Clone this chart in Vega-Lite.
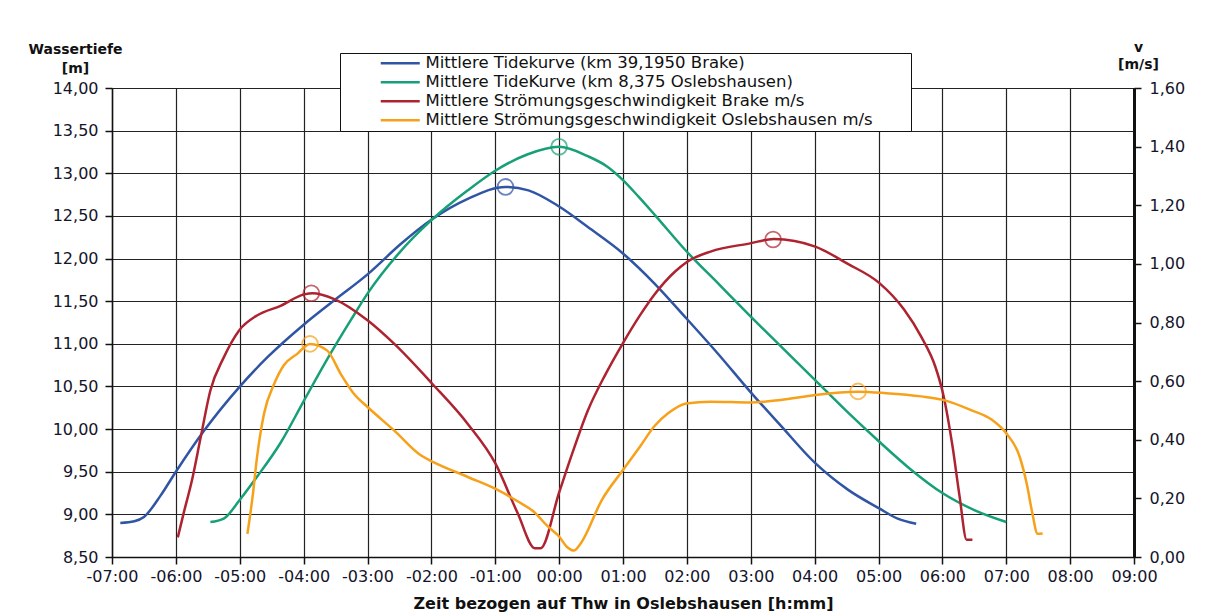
{
  "$schema": "https://vega.github.io/schema/vega-lite/v6.json",
  "width": 1022,
  "height": 469,
  "autosize": {"type": "none"},
  "padding": {"left": 112, "top": 88, "right": 91, "bottom": 58},
  "background": "white",
  "config": {
    "view": {"stroke": null},
    "font": "DejaVu Sans",
    "axis": {
      "gridColor": "#222222",
      "gridWidth": 1.2,
      "gridOpacity": 1,
      "domainColor": "#111111",
      "domainWidth": 1.5,
      "tickColor": "#111111",
      "tickWidth": 1.5,
      "tickSize": 7,
      "labelColor": "#14142a",
      "titleColor": "#111111",
      "labelFont": "DejaVu Sans",
      "titleFont": "DejaVu Sans",
      "labelFontSize": 16,
      "labelOverlap": false,
      "labelFlush": false,
      "labelBound": false
    }
  },
  "datasets": {
    "tide": [
      {"series": "Mittlere Tidekurve (km 39,1950 Brake)", "t": -6.87, "val": 8.90},
      {"series": "Mittlere Tidekurve (km 39,1950 Brake)", "t": -6.65, "val": 8.92},
      {"series": "Mittlere Tidekurve (km 39,1950 Brake)", "t": -6.50, "val": 8.97},
      {"series": "Mittlere Tidekurve (km 39,1950 Brake)", "t": -6.24, "val": 9.22},
      {"series": "Mittlere Tidekurve (km 39,1950 Brake)", "t": -6.00, "val": 9.50},
      {"series": "Mittlere Tidekurve (km 39,1950 Brake)", "t": -5.56, "val": 9.98},
      {"series": "Mittlere Tidekurve (km 39,1950 Brake)", "t": -5.01, "val": 10.49},
      {"series": "Mittlere Tidekurve (km 39,1950 Brake)", "t": -4.57, "val": 10.84},
      {"series": "Mittlere Tidekurve (km 39,1950 Brake)", "t": -3.99, "val": 11.23},
      {"series": "Mittlere Tidekurve (km 39,1950 Brake)", "t": -3.52, "val": 11.51},
      {"series": "Mittlere Tidekurve (km 39,1950 Brake)", "t": -2.99, "val": 11.82},
      {"series": "Mittlere Tidekurve (km 39,1950 Brake)", "t": -2.48, "val": 12.17},
      {"series": "Mittlere Tidekurve (km 39,1950 Brake)", "t": -1.99, "val": 12.46},
      {"series": "Mittlere Tidekurve (km 39,1950 Brake)", "t": -1.43, "val": 12.70},
      {"series": "Mittlere Tidekurve (km 39,1950 Brake)", "t": -0.84, "val": 12.84},
      {"series": "Mittlere Tidekurve (km 39,1950 Brake)", "t": -0.48, "val": 12.80},
      {"series": "Mittlere Tidekurve (km 39,1950 Brake)", "t": 0.00, "val": 12.61},
      {"series": "Mittlere Tidekurve (km 39,1950 Brake)", "t": 0.45, "val": 12.37},
      {"series": "Mittlere Tidekurve (km 39,1950 Brake)", "t": 1.00, "val": 12.06},
      {"series": "Mittlere Tidekurve (km 39,1950 Brake)", "t": 1.49, "val": 11.71},
      {"series": "Mittlere Tidekurve (km 39,1950 Brake)", "t": 1.99, "val": 11.30},
      {"series": "Mittlere Tidekurve (km 39,1950 Brake)", "t": 2.48, "val": 10.89},
      {"series": "Mittlere Tidekurve (km 39,1950 Brake)", "t": 2.99, "val": 10.44},
      {"series": "Mittlere Tidekurve (km 39,1950 Brake)", "t": 3.47, "val": 10.04},
      {"series": "Mittlere Tidekurve (km 39,1950 Brake)", "t": 4.01, "val": 9.60},
      {"series": "Mittlere Tidekurve (km 39,1950 Brake)", "t": 4.52, "val": 9.29},
      {"series": "Mittlere Tidekurve (km 39,1950 Brake)", "t": 5.01, "val": 9.07},
      {"series": "Mittlere Tidekurve (km 39,1950 Brake)", "t": 5.30, "val": 8.95},
      {"series": "Mittlere Tidekurve (km 39,1950 Brake)", "t": 5.59, "val": 8.89},
      {"series": "Mittlere TideKurve (km 8,375 Oslebshausen)", "t": -5.46, "val": 8.91},
      {"series": "Mittlere TideKurve (km 8,375 Oslebshausen)", "t": -5.25, "val": 8.95},
      {"series": "Mittlere TideKurve (km 8,375 Oslebshausen)", "t": -5.01, "val": 9.16},
      {"series": "Mittlere TideKurve (km 8,375 Oslebshausen)", "t": -4.73, "val": 9.44},
      {"series": "Mittlere TideKurve (km 8,375 Oslebshausen)", "t": -4.36, "val": 9.84},
      {"series": "Mittlere TideKurve (km 8,375 Oslebshausen)", "t": -3.99, "val": 10.34},
      {"series": "Mittlere TideKurve (km 8,375 Oslebshausen)", "t": -3.63, "val": 10.82},
      {"series": "Mittlere TideKurve (km 8,375 Oslebshausen)", "t": -3.26, "val": 11.28},
      {"series": "Mittlere TideKurve (km 8,375 Oslebshausen)", "t": -2.99, "val": 11.60},
      {"series": "Mittlere TideKurve (km 8,375 Oslebshausen)", "t": -2.50, "val": 12.07},
      {"series": "Mittlere TideKurve (km 8,375 Oslebshausen)", "t": -2.00, "val": 12.45},
      {"series": "Mittlere TideKurve (km 8,375 Oslebshausen)", "t": -1.43, "val": 12.80},
      {"series": "Mittlere TideKurve (km 8,375 Oslebshausen)", "t": -1.00, "val": 13.03},
      {"series": "Mittlere TideKurve (km 8,375 Oslebshausen)", "t": -0.50, "val": 13.22},
      {"series": "Mittlere TideKurve (km 8,375 Oslebshausen)", "t": 0.00, "val": 13.31},
      {"series": "Mittlere TideKurve (km 8,375 Oslebshausen)", "t": 0.45, "val": 13.20},
      {"series": "Mittlere TideKurve (km 8,375 Oslebshausen)", "t": 0.75, "val": 13.08},
      {"series": "Mittlere TideKurve (km 8,375 Oslebshausen)", "t": 1.00, "val": 12.92},
      {"series": "Mittlere TideKurve (km 8,375 Oslebshausen)", "t": 1.25, "val": 12.72},
      {"series": "Mittlere TideKurve (km 8,375 Oslebshausen)", "t": 1.50, "val": 12.51},
      {"series": "Mittlere TideKurve (km 8,375 Oslebshausen)", "t": 2.00, "val": 12.08},
      {"series": "Mittlere TideKurve (km 8,375 Oslebshausen)", "t": 2.50, "val": 11.70},
      {"series": "Mittlere TideKurve (km 8,375 Oslebshausen)", "t": 3.00, "val": 11.32},
      {"series": "Mittlere TideKurve (km 8,375 Oslebshausen)", "t": 3.50, "val": 10.95},
      {"series": "Mittlere TideKurve (km 8,375 Oslebshausen)", "t": 4.00, "val": 10.58},
      {"series": "Mittlere TideKurve (km 8,375 Oslebshausen)", "t": 4.50, "val": 10.21},
      {"series": "Mittlere TideKurve (km 8,375 Oslebshausen)", "t": 5.00, "val": 9.86},
      {"series": "Mittlere TideKurve (km 8,375 Oslebshausen)", "t": 5.50, "val": 9.53},
      {"series": "Mittlere TideKurve (km 8,375 Oslebshausen)", "t": 6.00, "val": 9.25},
      {"series": "Mittlere TideKurve (km 8,375 Oslebshausen)", "t": 6.50, "val": 9.05},
      {"series": "Mittlere TideKurve (km 8,375 Oslebshausen)", "t": 7.00, "val": 8.91}
    ],
    "tidepk": [
      {"series": "Mittlere Tidekurve (km 39,1950 Brake)", "t": -0.84, "val": 12.84},
      {"series": "Mittlere TideKurve (km 8,375 Oslebshausen)", "t": 0.00, "val": 13.31}
    ],
    "speed": [
      {"series": "Mittlere Strömungsgeschwindigkeit Brake m/s", "t": -5.97, "val": 0.067},
      {"series": "Mittlere Strömungsgeschwindigkeit Brake m/s", "t": -5.88, "val": 0.148},
      {"series": "Mittlere Strömungsgeschwindigkeit Brake m/s", "t": -5.75, "val": 0.26},
      {"series": "Mittlere Strömungsgeschwindigkeit Brake m/s", "t": -5.61, "val": 0.41},
      {"series": "Mittlere Strömungsgeschwindigkeit Brake m/s", "t": -5.46, "val": 0.568},
      {"series": "Mittlere Strömungsgeschwindigkeit Brake m/s", "t": -5.25, "val": 0.681},
      {"series": "Mittlere Strömungsgeschwindigkeit Brake m/s", "t": -5.01, "val": 0.773},
      {"series": "Mittlere Strömungsgeschwindigkeit Brake m/s", "t": -4.73, "val": 0.824},
      {"series": "Mittlere Strömungsgeschwindigkeit Brake m/s", "t": -4.36, "val": 0.857},
      {"series": "Mittlere Strömungsgeschwindigkeit Brake m/s", "t": -3.99, "val": 0.896},
      {"series": "Mittlere Strömungsgeschwindigkeit Brake m/s", "t": -3.86, "val": 0.90},
      {"series": "Mittlere Strömungsgeschwindigkeit Brake m/s", "t": -3.52, "val": 0.88},
      {"series": "Mittlere Strömungsgeschwindigkeit Brake m/s", "t": -2.99, "val": 0.806},
      {"series": "Mittlere Strömungsgeschwindigkeit Brake m/s", "t": -2.58, "val": 0.727},
      {"series": "Mittlere Strömungsgeschwindigkeit Brake m/s", "t": -1.99, "val": 0.592},
      {"series": "Mittlere Strömungsgeschwindigkeit Brake m/s", "t": -1.43, "val": 0.454},
      {"series": "Mittlere Strömungsgeschwindigkeit Brake m/s", "t": -1.00, "val": 0.32},
      {"series": "Mittlere Strömungsgeschwindigkeit Brake m/s", "t": -0.65, "val": 0.15},
      {"series": "Mittlere Strömungsgeschwindigkeit Brake m/s", "t": -0.38, "val": 0.03},
      {"series": "Mittlere Strömungsgeschwindigkeit Brake m/s", "t": -0.29, "val": 0.03},
      {"series": "Mittlere Strömungsgeschwindigkeit Brake m/s", "t": 0.00, "val": 0.22},
      {"series": "Mittlere Strömungsgeschwindigkeit Brake m/s", "t": 0.20, "val": 0.35},
      {"series": "Mittlere Strömungsgeschwindigkeit Brake m/s", "t": 0.45, "val": 0.50},
      {"series": "Mittlere Strömungsgeschwindigkeit Brake m/s", "t": 0.73, "val": 0.625},
      {"series": "Mittlere Strömungsgeschwindigkeit Brake m/s", "t": 1.00, "val": 0.73},
      {"series": "Mittlere Strömungsgeschwindigkeit Brake m/s", "t": 1.27, "val": 0.826},
      {"series": "Mittlere Strömungsgeschwindigkeit Brake m/s", "t": 1.49, "val": 0.895},
      {"series": "Mittlere Strömungsgeschwindigkeit Brake m/s", "t": 1.82, "val": 0.975},
      {"series": "Mittlere Strömungsgeschwindigkeit Brake m/s", "t": 1.99, "val": 1.005},
      {"series": "Mittlere Strömungsgeschwindigkeit Brake m/s", "t": 2.37, "val": 1.042},
      {"series": "Mittlere Strömungsgeschwindigkeit Brake m/s", "t": 2.99, "val": 1.07},
      {"series": "Mittlere Strömungsgeschwindigkeit Brake m/s", "t": 3.36, "val": 1.085},
      {"series": "Mittlere Strömungsgeschwindigkeit Brake m/s", "t": 4.01, "val": 1.059},
      {"series": "Mittlere Strömungsgeschwindigkeit Brake m/s", "t": 4.52, "val": 1.0},
      {"series": "Mittlere Strömungsgeschwindigkeit Brake m/s", "t": 5.01, "val": 0.935},
      {"series": "Mittlere Strömungsgeschwindigkeit Brake m/s", "t": 5.40, "val": 0.844},
      {"series": "Mittlere Strömungsgeschwindigkeit Brake m/s", "t": 5.67, "val": 0.751},
      {"series": "Mittlere Strömungsgeschwindigkeit Brake m/s", "t": 5.89, "val": 0.649},
      {"series": "Mittlere Strömungsgeschwindigkeit Brake m/s", "t": 6.01, "val": 0.558},
      {"series": "Mittlere Strömungsgeschwindigkeit Brake m/s", "t": 6.16, "val": 0.376},
      {"series": "Mittlere Strömungsgeschwindigkeit Brake m/s", "t": 6.27, "val": 0.206},
      {"series": "Mittlere Strömungsgeschwindigkeit Brake m/s", "t": 6.38, "val": 0.059},
      {"series": "Mittlere Strömungsgeschwindigkeit Brake m/s", "t": 6.47, "val": 0.059},
      {"series": "Mittlere Strömungsgeschwindigkeit Oslebshausen m/s", "t": -4.88, "val": 0.079},
      {"series": "Mittlere Strömungsgeschwindigkeit Oslebshausen m/s", "t": -4.80, "val": 0.204},
      {"series": "Mittlere Strömungsgeschwindigkeit Oslebshausen m/s", "t": -4.73, "val": 0.34},
      {"series": "Mittlere Strömungsgeschwindigkeit Oslebshausen m/s", "t": -4.62, "val": 0.489},
      {"series": "Mittlere Strömungsgeschwindigkeit Oslebshausen m/s", "t": -4.46, "val": 0.591},
      {"series": "Mittlere Strömungsgeschwindigkeit Oslebshausen m/s", "t": -4.31, "val": 0.654},
      {"series": "Mittlere Strömungsgeschwindigkeit Oslebshausen m/s", "t": -4.10, "val": 0.693},
      {"series": "Mittlere Strömungsgeschwindigkeit Oslebshausen m/s", "t": -3.90, "val": 0.727},
      {"series": "Mittlere Strömungsgeschwindigkeit Oslebshausen m/s", "t": -3.63, "val": 0.704},
      {"series": "Mittlere Strömungsgeschwindigkeit Oslebshausen m/s", "t": -3.42, "val": 0.625},
      {"series": "Mittlere Strömungsgeschwindigkeit Oslebshausen m/s", "t": -3.21, "val": 0.556},
      {"series": "Mittlere Strömungsgeschwindigkeit Oslebshausen m/s", "t": -2.99, "val": 0.51},
      {"series": "Mittlere Strömungsgeschwindigkeit Oslebshausen m/s", "t": -2.58, "val": 0.431},
      {"series": "Mittlere Strömungsgeschwindigkeit Oslebshausen m/s", "t": -2.16, "val": 0.346},
      {"series": "Mittlere Strömungsgeschwindigkeit Oslebshausen m/s", "t": -1.96, "val": 0.323},
      {"series": "Mittlere Strömungsgeschwindigkeit Oslebshausen m/s", "t": -1.43, "val": 0.273},
      {"series": "Mittlere Strömungsgeschwindigkeit Oslebshausen m/s", "t": -1.00, "val": 0.233},
      {"series": "Mittlere Strömungsgeschwindigkeit Oslebshausen m/s", "t": -0.65, "val": 0.19},
      {"series": "Mittlere Strömungsgeschwindigkeit Oslebshausen m/s", "t": -0.40, "val": 0.155},
      {"series": "Mittlere Strömungsgeschwindigkeit Oslebshausen m/s", "t": -0.18, "val": 0.105},
      {"series": "Mittlere Strömungsgeschwindigkeit Oslebshausen m/s", "t": 0.00, "val": 0.07},
      {"series": "Mittlere Strömungsgeschwindigkeit Oslebshausen m/s", "t": 0.12, "val": 0.035},
      {"series": "Mittlere Strömungsgeschwindigkeit Oslebshausen m/s", "t": 0.23, "val": 0.022},
      {"series": "Mittlere Strömungsgeschwindigkeit Oslebshausen m/s", "t": 0.34, "val": 0.047},
      {"series": "Mittlere Strömungsgeschwindigkeit Oslebshausen m/s", "t": 0.67, "val": 0.195},
      {"series": "Mittlere Strömungsgeschwindigkeit Oslebshausen m/s", "t": 1.00, "val": 0.297},
      {"series": "Mittlere Strömungsgeschwindigkeit Oslebshausen m/s", "t": 1.27, "val": 0.378},
      {"series": "Mittlere Strömungsgeschwindigkeit Oslebshausen m/s", "t": 1.49, "val": 0.446},
      {"series": "Mittlere Strömungsgeschwindigkeit Oslebshausen m/s", "t": 1.71, "val": 0.491},
      {"series": "Mittlere Strömungsgeschwindigkeit Oslebshausen m/s", "t": 1.99, "val": 0.524},
      {"series": "Mittlere Strömungsgeschwindigkeit Oslebshausen m/s", "t": 2.37, "val": 0.53},
      {"series": "Mittlere Strömungsgeschwindigkeit Oslebshausen m/s", "t": 2.99, "val": 0.527},
      {"series": "Mittlere Strömungsgeschwindigkeit Oslebshausen m/s", "t": 3.47, "val": 0.536},
      {"series": "Mittlere Strömungsgeschwindigkeit Oslebshausen m/s", "t": 4.01, "val": 0.553},
      {"series": "Mittlere Strömungsgeschwindigkeit Oslebshausen m/s", "t": 4.68, "val": 0.564},
      {"series": "Mittlere Strömungsgeschwindigkeit Oslebshausen m/s", "t": 5.12, "val": 0.559},
      {"series": "Mittlere Strömungsgeschwindigkeit Oslebshausen m/s", "t": 5.67, "val": 0.548},
      {"series": "Mittlere Strömungsgeschwindigkeit Oslebshausen m/s", "t": 6.01, "val": 0.536},
      {"series": "Mittlere Strömungsgeschwindigkeit Oslebshausen m/s", "t": 6.44, "val": 0.502},
      {"series": "Mittlere Strömungsgeschwindigkeit Oslebshausen m/s", "t": 6.77, "val": 0.469},
      {"series": "Mittlere Strömungsgeschwindigkeit Oslebshausen m/s", "t": 7.00, "val": 0.422},
      {"series": "Mittlere Strömungsgeschwindigkeit Oslebshausen m/s", "t": 7.21, "val": 0.342},
      {"series": "Mittlere Strömungsgeschwindigkeit Oslebshausen m/s", "t": 7.32, "val": 0.251},
      {"series": "Mittlere Strömungsgeschwindigkeit Oslebshausen m/s", "t": 7.41, "val": 0.148},
      {"series": "Mittlere Strömungsgeschwindigkeit Oslebshausen m/s", "t": 7.49, "val": 0.079},
      {"series": "Mittlere Strömungsgeschwindigkeit Oslebshausen m/s", "t": 7.57, "val": 0.08}
    ],
    "speedpk": [
      {"series": "Mittlere Strömungsgeschwindigkeit Brake m/s", "t": -3.88, "val": 0.90},
      {"series": "Mittlere Strömungsgeschwindigkeit Brake m/s", "t": 3.35, "val": 1.083},
      {"series": "Mittlere Strömungsgeschwindigkeit Oslebshausen m/s", "t": -3.90, "val": 0.727},
      {"series": "Mittlere Strömungsgeschwindigkeit Oslebshausen m/s", "t": 4.68, "val": 0.565}
    ]
  },
  "layer": [
    {
      "encoding": {
        "x": {
          "field": "t", "type": "quantitative",
          "scale": {"domain": [-7, 9], "nice": false, "zero": false},
          "axis": {
            "values": [-7, -6, -5, -4, -3, -2, -1, 0, 1, 2, 3, 4, 5, 6, 7, 8, 9],
            "grid": true,
            "labelExpr": "(datum.value < 0 ? '-' : '') + format(abs(datum.value), '02d') + ':00'",
            "labelPadding": 4,
            "title": "Zeit bezogen auf Thw in Oslebshausen [h:mm]",
            "titleFontSize": 16,
            "titleFontWeight": "bold",
            "titlePadding": 11
          }
        },
        "y": {
          "field": "val", "type": "quantitative",
          "scale": {"domain": [8.5, 14], "nice": false, "zero": false},
          "axis": {
            "orient": "left",
            "values": [8.5, 9, 9.5, 10, 10.5, 11, 11.5, 12, 12.5, 13, 13.5, 14],
            "grid": true,
            "labelExpr": "replace(format(datum.value, '.2f'), '.', ',')",
            "labelPadding": 7,
            "title": ["Wassertiefe", "[m]"],
            "titleAngle": 0,
            "titleAlign": "center",
            "titleBaseline": "top",
            "titleX": -37,
            "titleY": -46,
            "titleFontSize": 14,
            "titleFontWeight": "bold",
            "titleLineHeight": 19
          }
        }
      },
      "layer": [
        {
          "data": {"name": "tide"},
          "mark": {"type": "line", "interpolate": "monotone", "strokeWidth": 2.5},
          "encoding": {
            "color": {
              "field": "series", "type": "nominal",
              "scale": {
                "domain": ["Mittlere Tidekurve (km 39,1950 Brake)", "Mittlere TideKurve (km 8,375 Oslebshausen)", "Mittlere Strömungsgeschwindigkeit Brake m/s", "Mittlere Strömungsgeschwindigkeit Oslebshausen m/s"],
                "range": ["#2f55a4", "#17a077", "#ae2330", "#f7a11a"]
              },
              "legend": {
                "orient": "none",
                "legendX": 228,
                "legendY": -35,
                "title": null,
                "fillColor": "white",
                "strokeColor": "#111111",
                "padding": 2,
                "symbolType": "M-3.9,0H3.9",
                "symbolSize": 100,
                "symbolStrokeWidth": 2.5,
                "symbolOffset": 50,
                "labelOffset": 17,
                "labelFont": "DejaVu Sans",
                "labelFontSize": 16.5,
                "labelColor": "#111111",
                "labelLimit": 0,
                "rowPadding": 2,
                "labelExpr": "datum.label + '\u2800\u2800\u2800'"
              }
            }
          }
        },
        {
          "data": {"name": "tidepk"},
          "mark": {"type": "point", "filled": false, "size": 250, "strokeWidth": 1.8},
          "encoding": {
            "stroke": {
              "field": "series", "type": "nominal",
              "scale": {
                "domain": ["Mittlere Tidekurve (km 39,1950 Brake)", "Mittlere TideKurve (km 8,375 Oslebshausen)", "Mittlere Strömungsgeschwindigkeit Brake m/s", "Mittlere Strömungsgeschwindigkeit Oslebshausen m/s"],
                "range": ["#2f55a4", "#17a077", "#ae2330", "#f7a11a"]
              },
              "legend": null
            }
          }
        }
      ]
    },
    {
      "encoding": {
        "x": {"field": "t", "type": "quantitative"},
        "y": {
          "field": "val", "type": "quantitative",
          "scale": {"domain": [0, 1.6], "nice": false, "zero": false},
          "axis": {
            "orient": "right",
            "values": [0, 0.2, 0.4, 0.6, 0.8, 1.0, 1.2, 1.4, 1.6],
            "grid": false,
            "domainWidth": 3,
            "labelExpr": "replace(format(datum.value, '.2f'), '.', ',')",
            "labelPadding": 8,
            "title": ["v", "[m/s]"],
            "titleAngle": 0,
            "titleAlign": "center",
            "titleBaseline": "top",
            "titleX": 4,
            "titleY": -48,
            "titleFontSize": 14,
            "titleFontWeight": "bold",
            "titleLineHeight": 17
          }
        }
      },
      "layer": [
        {
          "data": {"name": "speed"},
          "mark": {"type": "line", "interpolate": "monotone", "strokeWidth": 2.5},
          "encoding": {
            "color": {"field": "series", "type": "nominal"}
          }
        },
        {
          "data": {"name": "speedpk"},
          "mark": {"type": "point", "filled": false, "size": 250, "strokeWidth": 1.8},
          "encoding": {
            "stroke": {"field": "series", "type": "nominal", "legend": null}
          }
        }
      ]
    }
  ],
  "resolve": {"scale": {"y": "independent"}}
}
